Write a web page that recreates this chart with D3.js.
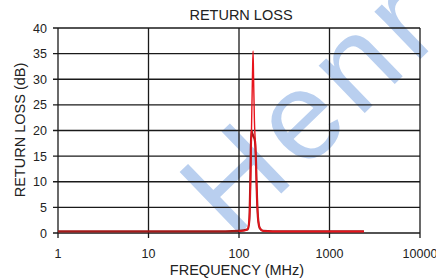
<!DOCTYPE html>
<html>
<head>
<meta charset="utf-8">
<script src="https://cdn.jsdelivr.net/npm/d3@7"></script>
<style>
  body { margin: 0; background: #fff; }
  text { font-family: "Liberation Sans", Arial, sans-serif; fill: #222; }
</style>
</head>
<body>
<svg width="436" height="280"></svg>
<script>
// data
var xTicks = [1, 10, 100, 1000, 10000];
var yTicks = [0, 5, 10, 15, 20, 25, 30, 35, 40];

var freqA = [1, 10, 50, 100, 125, 130, 133, 135, 137, 140, 145, 150, 154, 158, 163, 170, 185, 300, 1000, 2400];
var lossA = [0.3, 0.3, 0.3, 0.4, 0.7, 2.5, 9, 16, 20, 19.5, 18.8, 18, 14, 7, 2.5, 0.9, 0.4, 0.3, 0.3, 0.3];

var freqB = [100, 120, 128, 132, 135, 138, 141, 143, 145, 148, 152, 157, 162, 170, 185, 300, 1000, 2400];
var lossB = [0.3, 0.5, 1.5, 5, 12, 22, 31, 35.5, 30, 22, 17, 8, 3, 1, 0.4, 0.3, 0.3, 0.3];

var svg = d3.select("svg"),
  pLeft = 58, pRight = 420, pTop = 28, pBottom = 233;

var x = d3.scaleLog().domain([1, 10000]).range([pLeft, pRight]),
  y = d3.scaleLinear().domain([0, 40]).range([pBottom, pTop]);

// watermark
svg.append("text")
  .attr("transform", "translate(232,241) rotate(-44)")
  .attr("font-size", 125)
  .attr("letter-spacing", 8)
  .style("fill", "#b9cfef")
  .text("Henr");

// grid
svg.append("g")
  .selectAll("line")
  .data(yTicks)
  .enter()
  .append("line")
  .attr("x1", pLeft - 5)
  .attr("x2", pRight)
  .attr("y1", function (d) { return y(d); })
  .attr("y2", function (d) { return y(d); })
  .attr("stroke", "#1a1a1a")
  .attr("stroke-width", 1.3);

svg.append("g")
  .selectAll("line")
  .data(xTicks)
  .enter()
  .append("line")
  .attr("x1", function (d) { return x(d); })
  .attr("x2", function (d) { return x(d); })
  .attr("y1", pTop)
  .attr("y2", pBottom + 5)
  .attr("stroke", "#1a1a1a")
  .attr("stroke-width", 1.3);

// tick labels
svg.append("g")
  .selectAll("text")
  .data(yTicks)
  .enter()
  .append("text")
  .attr("x", pLeft - 11)
  .attr("y", function (d) { return y(d) + 4.5; })
  .attr("text-anchor", "end")
  .attr("font-size", 12.5)
  .text(function (d) { return d; });

svg.append("g")
  .selectAll("text")
  .data(xTicks)
  .enter()
  .append("text")
  .attr("x", function (d) { return x(d); })
  .attr("y", pBottom + 25)
  .attr("text-anchor", "middle")
  .attr("font-size", 12.5)
  .text(function (d) { return d; });

// curves
var line = d3.line()
  .x(function (d) { return x(d[0]); })
  .y(function (d) { return y(d[1]); })
  .curve(d3.curveMonotoneX);

svg.append("path")
  .datum(d3.zip(freqA, lossA))
  .attr("d", line)
  .attr("fill", "none")
  .attr("stroke", "#a31a1a")
  .attr("stroke-width", 2.2);

svg.append("path")
  .datum(d3.zip(freqB, lossB))
  .attr("d", line)
  .attr("fill", "none")
  .attr("stroke", "#e8141c")
  .attr("stroke-width", 1.4);

// titles
svg.append("text")
  .attr("x", 241)
  .attr("y", 20)
  .attr("text-anchor", "middle")
  .attr("font-size", 14.5)
  .text("RETURN LOSS");

svg.append("text")
  .attr("x", 237)
  .attr("y", 275)
  .attr("text-anchor", "middle")
  .attr("font-size", 14.5)
  .text("FREQUENCY (MHz)");

svg.append("text")
  .attr("transform", "translate(25,130) rotate(-90)")
  .attr("text-anchor", "middle")
  .attr("font-size", 14.5)
  .text("RETURN LOSS (dB)");
</script>
</body>
</html>
